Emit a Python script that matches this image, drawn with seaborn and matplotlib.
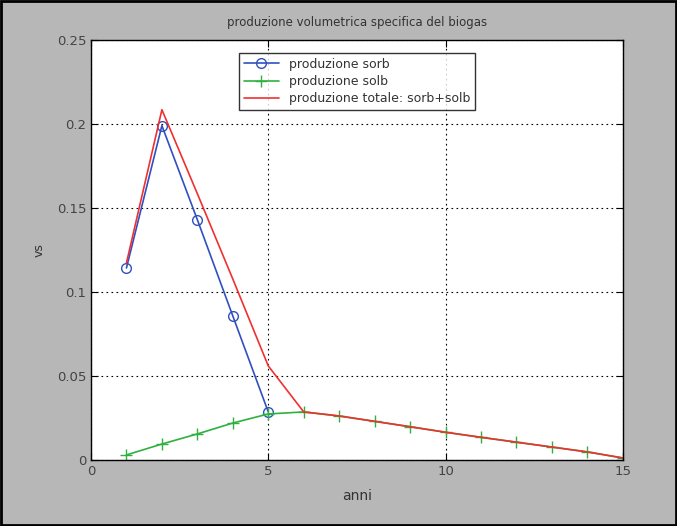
import matplotlib
matplotlib.use("Agg")
import matplotlib.pyplot as plt
import seaborn as sns
import pandas as pd

anni_sorb = [1, 2, 3, 4, 5]
sorb = [0.1143, 0.1990, 0.1430, 0.0857, 0.0286]
anni_solb = [1, 2, 3, 4, 5, 6, 7, 8, 9, 10, 11, 12, 13, 14, 15]
solb = [0.0030, 0.0095, 0.0155, 0.0220, 0.0274, 0.0286, 0.0262, 0.0230, 0.0198, 0.0165, 0.0135, 0.0106, 0.0077, 0.0048, 0.0012]
anni_tot = [1, 2, 3, 4, 5, 6, 7, 8, 9, 10, 11, 12, 13, 14, 15]
tot = [0.1173, 0.2085, 0.1585, 0.1077, 0.0560, 0.0286, 0.0262, 0.0230, 0.0198, 0.0165, 0.0135, 0.0106, 0.0077, 0.0048, 0.0012]
xticks = [0, 5, 10, 15]
yticks = [0, 0.05, 0.1, 0.15, 0.2, 0.25]
ytick_labels = ["0", "0.05", "0.1", "0.15", "0.2", "0.25"]

sns.set_style("white")
plt.rcParams['font.family'] = ['DejaVu Sans']

fig = plt.figure(figsize=(6.77, 5.26), dpi=100, facecolor="#b7b7b7")
ax = fig.add_axes([0.1344, 0.1255, 0.7856, 0.7985])
ax.set_facecolor("white")

df_sorb = pd.DataFrame({"x": anni_sorb, "y": sorb})
df_solb = pd.DataFrame({"x": anni_solb, "y": solb})
df_tot = pd.DataFrame({"x": anni_tot, "y": tot})

sns.lineplot(data=df_sorb, x="x", y="y", ax=ax, color="#3050c0", marker="o",
             markersize=7, markerfacecolor="none", markeredgecolor="#3050c0",
             markeredgewidth=1.0, linewidth=1.2, label="produzione sorb")
sns.lineplot(data=df_solb, x="x", y="y", ax=ax, color="#30b040", marker="+",
             markersize=9, markeredgecolor="#30b040", markeredgewidth=1.0,
             linewidth=1.2, label="produzione solb")
sns.lineplot(data=df_tot, x="x", y="y", ax=ax, color="#f03030", linewidth=1.2,
             label="produzione totale: sorb+solb")

ax.set_xlim(0, 15)
ax.set_ylim(0, 0.25)
ax.set_xticks(xticks)
ax.set_yticks(yticks)
ax.set_yticklabels(ytick_labels)
ax.tick_params(direction="in", length=5, labelsize=9.5, colors="black", top=True, right=True,
               bottom=True, left=True, labelcolor="#444444")
ax.grid(True, color="black", linestyle=(0, (1.5, 3)), linewidth=0.8)
for s in ax.spines.values():
    s.set_color("black")
    s.set_linewidth(1.0)

ax.set_title("produzione volumetrica specifica del biogas", fontsize=8.5, color="#333333", pad=10)
ax.set_xlabel("anni", fontsize=10, color="#333333", labelpad=8)
ax.set_ylabel("vs", fontsize=9, color="#333333", labelpad=8)

leg = ax.legend(loc="upper center", bbox_to_anchor=(0.5, 0.985), frameon=True, fancybox=False,
                edgecolor="black", fontsize=9, handlelength=2.8, borderpad=0.4, labelspacing=0.35)
leg.get_frame().set_linewidth(1.0)
for t in leg.get_texts():
    t.set_color("#333333")

border = plt.Rectangle((0.001, 0.001), 0.998, 0.997, transform=fig.transFigure, fill=False,
                       edgecolor="black", linewidth=2)
fig.patches.append(border)

fig.savefig("out.png", dpi=100, facecolor=fig.get_facecolor())
